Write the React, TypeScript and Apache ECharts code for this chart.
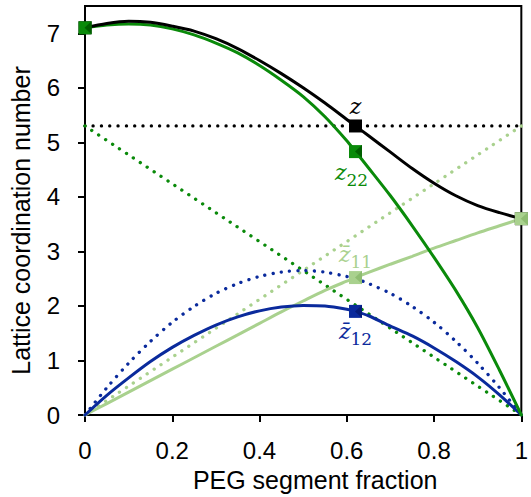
import React, { useEffect, useRef } from "react";
import * as echarts from "echarts";

// PEG segment fraction sample points
const xs = [0, 0.05, 0.1, 0.15, 0.2, 0.25, 0.3, 0.35, 0.4, 0.45, 0.5, 0.55, 0.6, 0.62, 0.65, 0.7, 0.75, 0.8, 0.85, 0.9, 0.95, 1];
// solid curves
const zValues = [7.1, 7.18, 7.22, 7.2, 7.13, 7.04, 6.9, 6.72, 6.5, 6.26, 6.0, 5.72, 5.42, 5.3, 5.12, 4.82, 4.52, 4.25, 4.02, 3.84, 3.71, 3.6];
const z22Values = [7.1, 7.15, 7.17, 7.15, 7.08, 6.97, 6.82, 6.64, 6.41, 6.14, 5.84, 5.47, 5.03, 4.83, 4.53, 4.02, 3.47, 2.89, 2.28, 1.6, 0.82, 0];
const z11Values = [0, 0.21, 0.42, 0.63, 0.84, 1.05, 1.26, 1.47, 1.68, 1.89, 2.09, 2.285, 2.455, 2.52, 2.615, 2.765, 2.91, 3.06, 3.2, 3.34, 3.47, 3.6];
const z12Values = [0, 0.36, 0.68, 0.98, 1.24, 1.46, 1.65, 1.8, 1.91, 1.98, 2.01, 2.0, 1.94, 1.9, 1.82, 1.63, 1.45, 1.23, 0.98, 0.7, 0.37, 0];
// dotted (random mixing) references
const zRandomX = [0, 1];
const zRandom = [5.3, 5.3];
const z22Random = [5.3, 0];
const z11Random = [0, 5.3];
const z12Random = [0, 0.5, 0.95, 1.35, 1.7, 1.99, 2.23, 2.41, 2.54, 2.62, 2.65, 2.62, 2.54, 2.5, 2.41, 2.23, 1.99, 1.7, 1.35, 0.95, 0.5, 0];

const markerX = 0.62;
const xTicks = [0, 0.2, 0.4, 0.6, 0.8, 1];
const yTicks = [0, 1, 2, 3, 4, 5, 6, 7];

const BLACK = "#000000";
const GREEN = "#0a8a0a";
const LIGHT = "#a9d18e";
const BLUE = "#0a2a9c";

const pairs = (xv: number[], yv: number[]) => xv.map((x, i) => [x, yv[i]]);
const at = (yv: number[], x: number) => [x, yv[xs.indexOf(x)]];

const FONT = "Liberation Sans, Arial, sans-serif";
const SERIF = "DejaVu Serif, serif";

function richFor(color: string) {
  return {
    i: { fontFamily: SERIF, fontStyle: "italic", fontSize: 22, color, verticalAlign: "top" },
    s: { fontFamily: SERIF, fontSize: 17, color, verticalAlign: "top", padding: [10, 0, 0, 0] },
  };
}

function dotted(color: string, data: number[][]) {
  return {
    type: "line",
    data,
    showSymbol: false,
    silent: true,
    smooth: 0.3,
    lineStyle: { color, width: 3.3, type: [0.1, 8.2], cap: "round" },
    z: 1,
  };
}

function solid(color: string, data: number[][]) {
  return {
    type: "line",
    data,
    showSymbol: false,
    silent: true,
    smooth: 0.3,
    lineStyle: { color, width: 3, cap: "round" },
    z: 2,
  };
}

function markers(color: string, shade: string | null, pts: number[][], label: any) {
  const list: any[] = [
    {
      type: "scatter",
      clip: false,
      symbol: "rect",
      symbolSize: 13,
      itemStyle: { color, opacity: 1 },
      z: 5,
      data: pts.map((p) =>
        p[0] === markerX && label ? { value: p, label } : { value: p }
      ),
    },
  ];
  if (shade) {
    list.push({
      type: "scatter",
      clip: false,
      symbol: "triangle",
      symbolSize: [13, 7],
      symbolRotate: 90,
      symbolOffset: [3, 0],
      itemStyle: { color: shade, opacity: 1 },
      z: 6,
      silent: true,
      data: pts.map((p) => ({ value: p })),
    });
  }
  return list;
}

export default function App() {
  const ref = useRef<HTMLDivElement>(null);
  useEffect(() => {
    if (!ref.current) return;
    const chart = echarts.init(ref.current, undefined, { renderer: "svg" });
    chart.setOption({
      animation: false,
      backgroundColor: "#ffffff",
      grid: {
        left: 85,
        right: 5,
        top: 6,
        bottom: 81,
        show: true,
        borderColor: "#000",
        borderWidth: 2,
      },
      xAxis: {
        type: "value",
        min: 0,
        max: 1,
        interval: 0.2,
        name: "PEG segment fraction",
        nameLocation: "middle",
        nameGap: 52,
        nameTextStyle: { fontFamily: FONT, fontSize: 25, color: "#000", padding: [0, 0, 0, 24] },
        axisLine: { lineStyle: { color: "#000", width: 2 } },
        axisTick: { show: true, length: 7, lineStyle: { color: "#000", width: 2 }, customValues: xTicks },
        axisLabel: {
          fontFamily: FONT,
          fontSize: 24,
          color: "#000",
          margin: 23,
          customValues: xTicks,
          formatter: (v: number) => String(Math.round(v * 10) / 10),
        },
        splitLine: { show: false },
      },
      yAxis: {
        type: "value",
        min: 0,
        max: 7.5,
        interval: 1,
        name: "Lattice coordination number",
        nameLocation: "middle",
        nameGap: 52,
        nameTextStyle: { fontFamily: FONT, fontSize: 25, color: "#000", padding: [0, 20, 0, 0] },
        axisLine: { lineStyle: { color: "#000", width: 2 } },
        axisTick: { show: true, length: 7, lineStyle: { color: "#000", width: 2 }, customValues: yTicks },
        axisLabel: {
          fontFamily: FONT,
          fontSize: 24,
          color: "#000",
          margin: 25,
          customValues: yTicks,
        },
        splitLine: { show: false },
      },
      series: [
        dotted(BLACK, pairs(zRandomX, zRandom)),
        dotted(GREEN, pairs(zRandomX, z22Random)),
        dotted(LIGHT, pairs(zRandomX, z11Random)),
        dotted(BLUE, pairs(xs, z12Random)),
        solid(LIGHT, pairs(xs, z11Values)),
        solid(BLUE, pairs(xs, z12Values)),
        solid(GREEN, pairs(xs, z22Values)),
        solid(BLACK, pairs(xs, zValues)),
        ...markers(BLACK, null, [at(zValues, 0), at(zValues, markerX), at(zValues, 1)], {
          show: true,
          position: "top",
          distance: 2,
          formatter: "{i|z}",
          rich: richFor(BLACK),
        }),
        ...markers(GREEN, "#005f00", [at(z22Values, 0), at(z22Values, markerX)], {
          show: true,
          position: "bottom",
          distance: 3,
          offset: [-4, 0],
          formatter: "{i|z}{s|22}",
          rich: richFor(GREEN),
        }),
        ...markers(LIGHT, "#8fbd72", [at(z11Values, markerX), at(z11Values, 1)], {
          show: true,
          position: "top",
          distance: 1,
          formatter: "{i|z\u0304}{s|11}",
          rich: richFor(LIGHT),
        }),
        ...markers(BLUE, "#061c78", [at(z12Values, markerX)], {
          show: true,
          position: "bottom",
          distance: 3,
          formatter: "{i|z\u0304}{s|12}",
          rich: richFor(BLUE),
        }),
      ],
    });
    return () => chart.dispose();
  }, []);
  return (
    <div
      ref={ref}
      style={{ position: "fixed", left: 0, top: 0, width: 531, height: 497, background: "#fff" }}
    />
  );
}
